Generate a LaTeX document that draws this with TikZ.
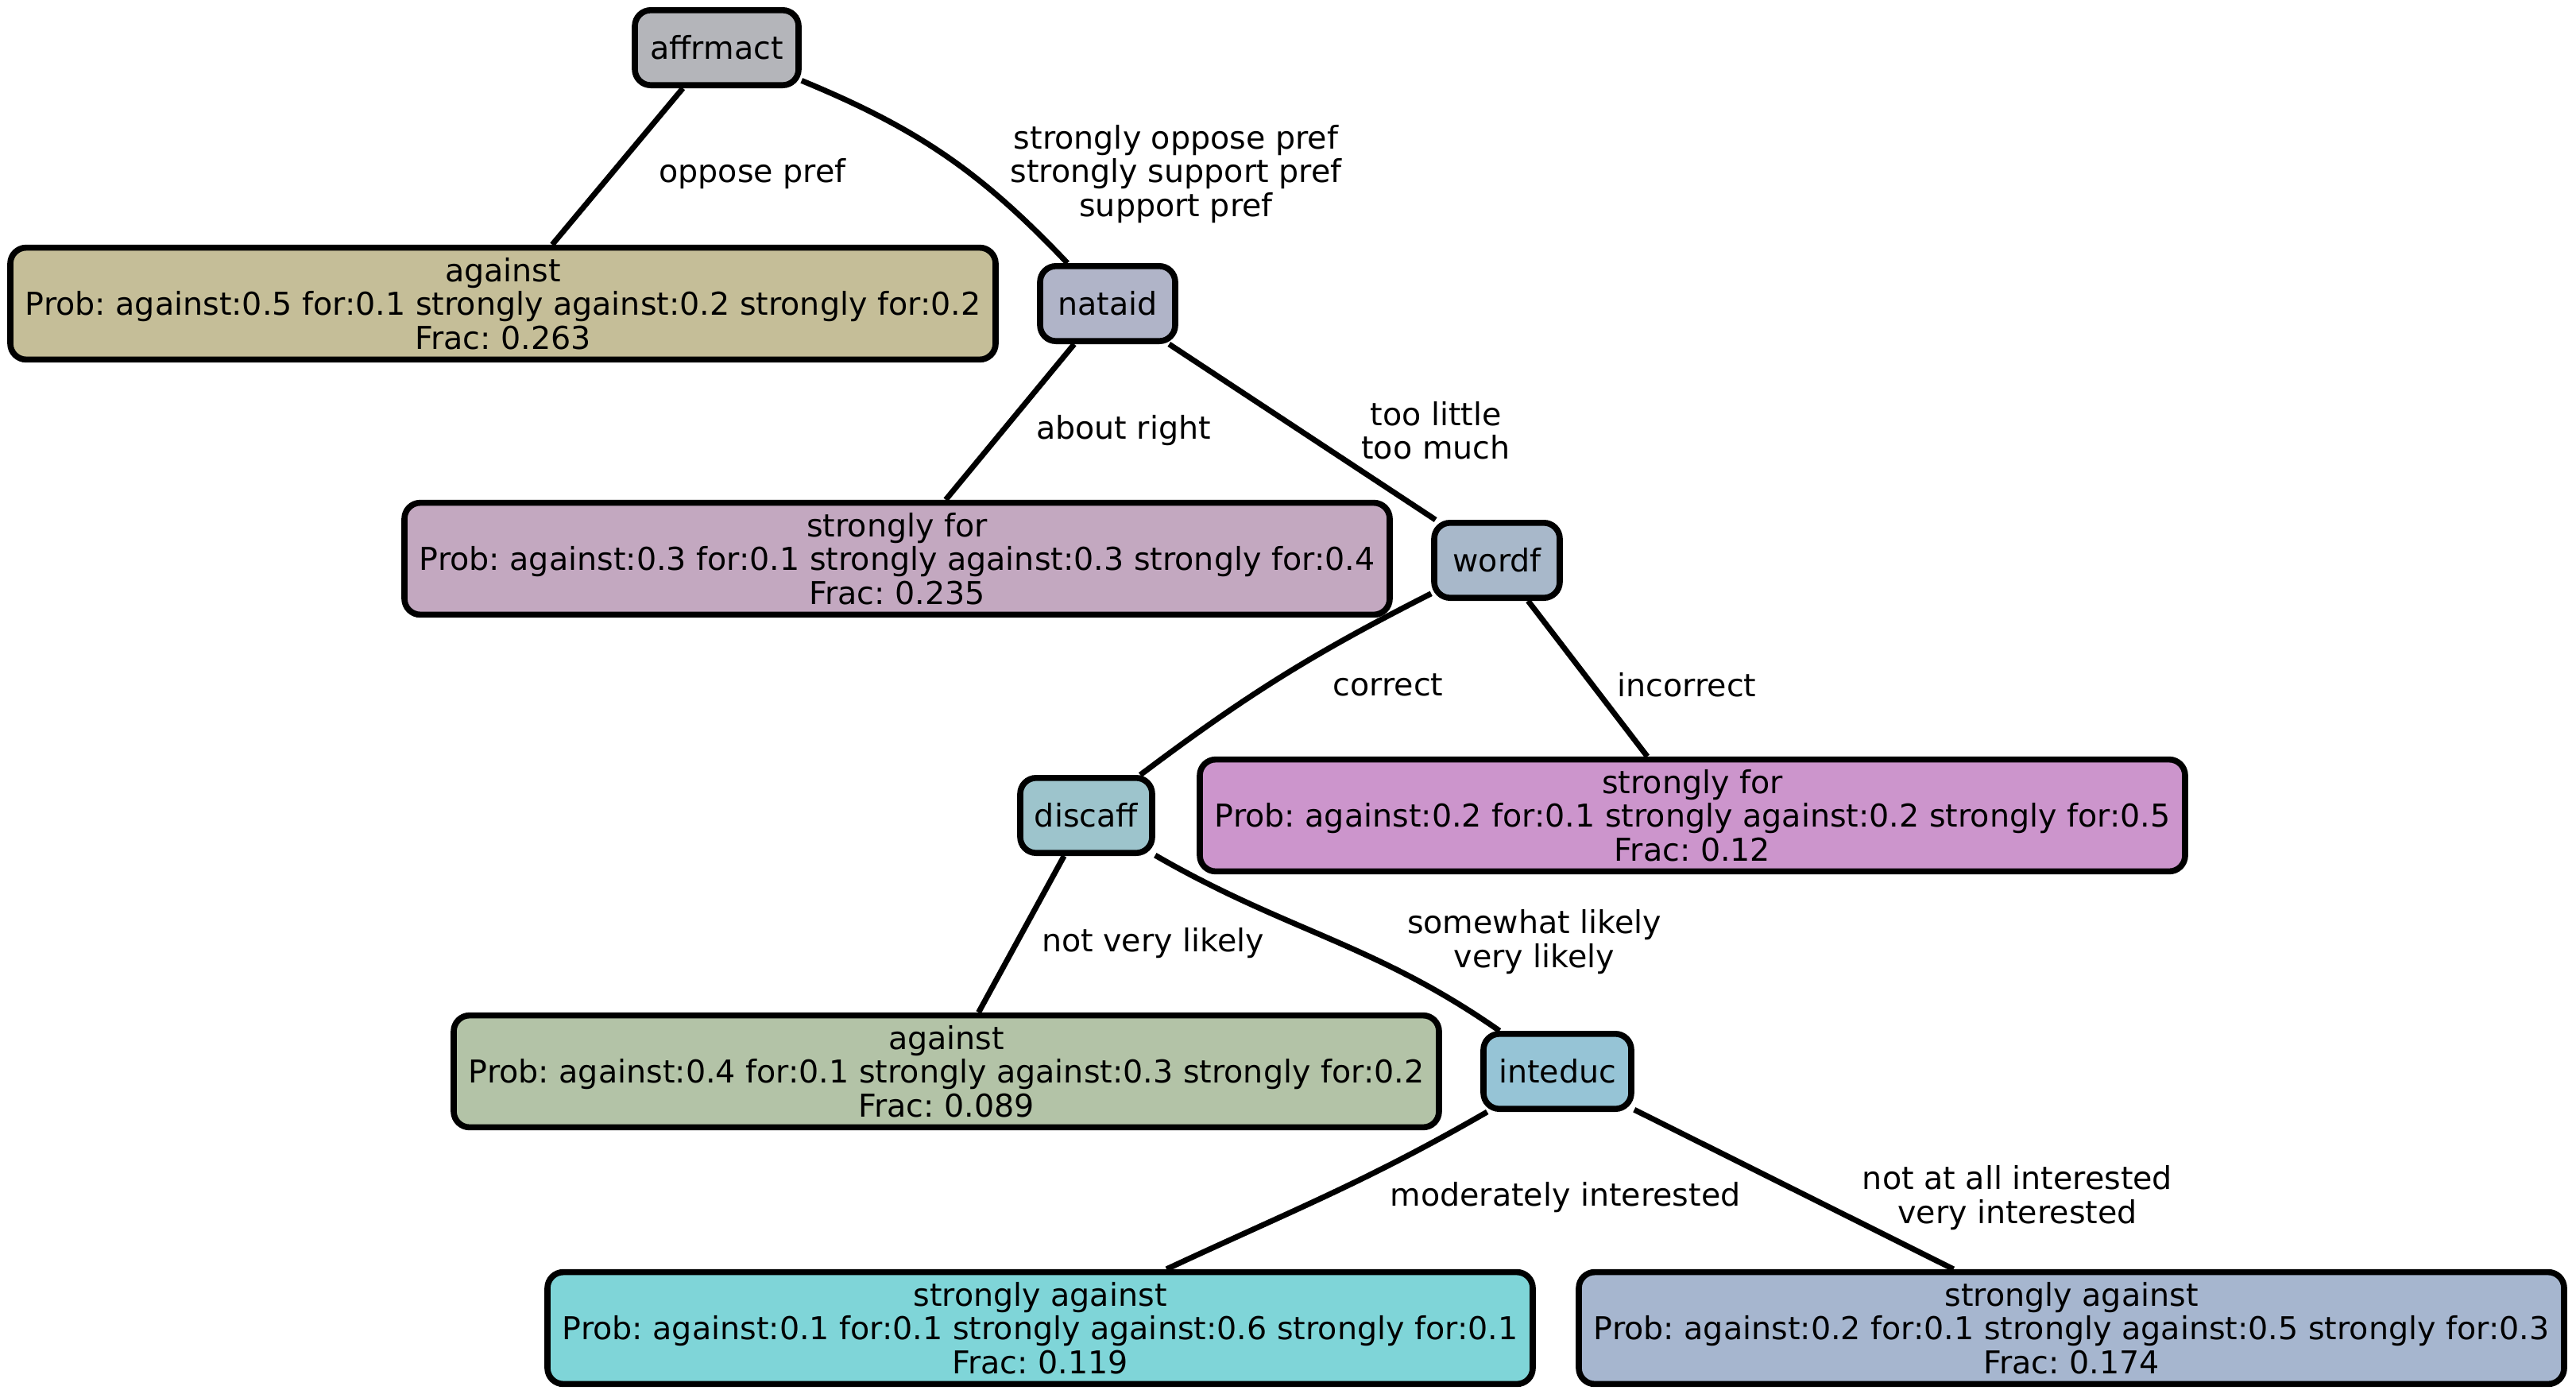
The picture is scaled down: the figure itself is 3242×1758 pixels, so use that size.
\documentclass[tikz,border=0pt]{standalone}
\usepackage{fontspec}
\setmainfont{DejaVu Sans}
\frenchspacing

% Farben der Knoten
\definecolor{cAffrmact}{RGB}{180,181,186}
\definecolor{cNataid}{RGB}{176,180,200}
\definecolor{cWordf}{RGB}{168,184,202}
\definecolor{cDiscaff}{RGB}{157,196,204}
\definecolor{cInteduc}{RGB}{150,196,214}
\definecolor{cBlattA}{RGB}{197,190,152}
\definecolor{cBlattB}{RGB}{195,168,192}
\definecolor{cBlattC}{RGB}{204,149,204}
\definecolor{cBlattD}{RGB}{179,195,167}
\definecolor{cBlattE}{RGB}{127,213,216}
\definecolor{cBlattF}{RGB}{166,182,207}

\begin{document}
\begin{tikzpicture}[x=0.25pt,y=-0.25pt,
    schrift/.style={font=\fontsize{9.9}{10.6}\selectfont},
    knoten/.style={schrift, draw=black, line width=1.9pt, rounded corners=5pt,
        align=center, inner sep=0pt},
    klein/.style={knoten, minimum height=23.6pt},
    blatt/.style={knoten, minimum width=310pt, minimum height=35.2pt},
    kante/.style={line width=1.75pt},
    etikett/.style={schrift, align=center, inner sep=0pt}]

    % Rahmen
    \useasboundingbox (0,0) rectangle (3242,1758);

    % Innere Knoten
    \node[klein, fill=cAffrmact, minimum width=51.5pt] (affrmact) at (902,60) {affrmact};
    \node[klein, fill=cNataid, minimum width=42.5pt] (nataid) at (1394,382) {nataid};
    \node[klein, fill=cWordf, minimum width=39.5pt] (wordf) at (1884,705) {wordf};
    \node[klein, fill=cDiscaff, minimum width=41.5pt] (discaff) at (1367,1026) {discaff};
    \node[klein, fill=cInteduc, minimum width=46.5pt] (inteduc) at (1960,1348) {inteduc};

    % Blaetter
    \node[blatt, fill=cBlattA] (blattA) at (633,382)
        {against\\Prob: against:0.5 for:0.1 strongly against:0.2 strongly for:0.2\\Frac: 0.263};
    \node[blatt, fill=cBlattB] (blattB) at (1129,703)
        {strongly for\\Prob: against:0.3 for:0.1 strongly against:0.3 strongly for:0.4\\Frac: 0.235};
    \node[blatt, fill=cBlattC] (blattC) at (2130,1026)
        {strongly for\\Prob: against:0.2 for:0.1 strongly against:0.2 strongly for:0.5\\Frac: 0.12};
    \node[blatt, fill=cBlattD] (blattD) at (1191,1348)
        {against\\Prob: against:0.4 for:0.1 strongly against:0.3 strongly for:0.2\\Frac: 0.089};
    \node[blatt, fill=cBlattE] (blattE) at (1309,1671)
        {strongly against\\Prob: against:0.1 for:0.1 strongly against:0.6 strongly for:0.1\\Frac: 0.119};
    \node[blatt, fill=cBlattF] (blattF) at (2607,1671)
        {strongly against\\Prob: against:0.2 for:0.1 strongly against:0.5 strongly for:0.3\\Frac: 0.174};

    % Kanten
    \draw[kante] (affrmact) -- (blattA);
    \draw[kante] (affrmact) to[bend left=12] (nataid);
    \draw[kante] (nataid) -- (blattB);
    \draw[kante] (nataid) -- (wordf);
    \draw[kante] (wordf) to[bend right=5] (discaff);
    \draw[kante] (wordf) -- (blattC);
    \draw[kante] (discaff) -- (blattD);
    \draw[kante] (discaff) to[out=-30,in=145] (inteduc);
    \draw[kante] (inteduc) to[out=-150,in=25] (blattE);
    \draw[kante] (inteduc) -- (blattF);

    % Beschriftungen der Kanten
    \node[etikett] (eA) at (947,219) {oppose pref};
    \node[etikett] (eB) at (1480,219) {strongly oppose pref\\strongly support pref\\support pref};
    \node[etikett] (eC) at (1414,542) {about right};
    \node[etikett] (eD) at (1807,542) {too little\\too much};
    \node[etikett] (eE) at (1747,862) {correct};
    \node[etikett] (eF) at (2123,862) {incorrect};
    \node[etikett] (eG) at (1451,1187) {not very likely};
    \node[etikett] (eH) at (1931,1185) {somewhat likely\\very likely};
    \node[etikett] (eI) at (1970,1507) {moderately interested};
    \node[etikett] (eJ) at (2539,1507) {not at all interested\\very interested};
\end{tikzpicture}
\end{document}
